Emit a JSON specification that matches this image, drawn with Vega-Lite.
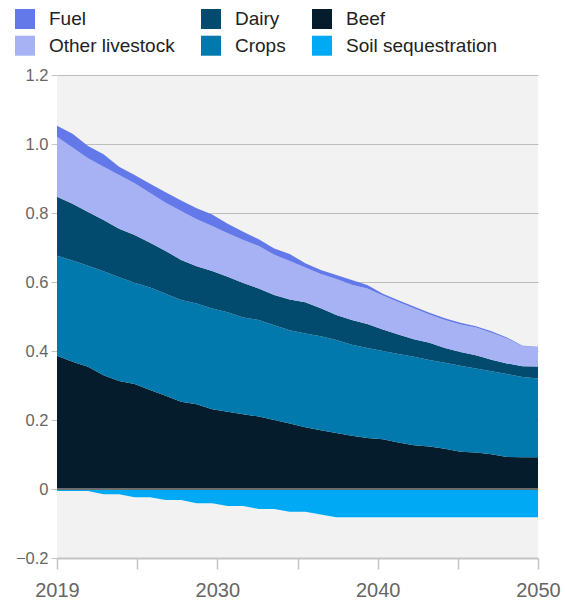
{
  "$schema": "https://vega.github.io/schema/vega-lite/v6.json",
  "autosize": {"type": "none"},
  "padding": {"left": 57, "top": 75, "right": 27, "bottom": 46},
  "width": 481,
  "height": 483,
  "config": {
    "font": "Liberation Sans",
    "view": {"fill": "#f2f2f2", "stroke": null}
  },
  "data": {
    "values": [
      {"year": 2019, "source": "Beef", "value": 0.386}, {"year": 2019, "source": "Crops", "value": 0.290}, {"year": 2019, "source": "Dairy", "value": 0.171}, {"year": 2019, "source": "Other livestock", "value": 0.174}, {"year": 2019, "source": "Fuel", "value": 0.032}, {"year": 2019, "source": "Soil sequestration", "value": -0.006},
      {"year": 2020, "source": "Beef", "value": 0.369}, {"year": 2020, "source": "Crops", "value": 0.293}, {"year": 2020, "source": "Dairy", "value": 0.165}, {"year": 2020, "source": "Other livestock", "value": 0.163}, {"year": 2020, "source": "Fuel", "value": 0.040}, {"year": 2020, "source": "Soil sequestration", "value": -0.006},
      {"year": 2021, "source": "Beef", "value": 0.354}, {"year": 2021, "source": "Crops", "value": 0.293}, {"year": 2021, "source": "Dairy", "value": 0.156}, {"year": 2021, "source": "Other livestock", "value": 0.156}, {"year": 2021, "source": "Fuel", "value": 0.035}, {"year": 2021, "source": "Soil sequestration", "value": -0.006},
      {"year": 2022, "source": "Beef", "value": 0.330}, {"year": 2022, "source": "Crops", "value": 0.301}, {"year": 2022, "source": "Dairy", "value": 0.149}, {"year": 2022, "source": "Other livestock", "value": 0.154}, {"year": 2022, "source": "Fuel", "value": 0.036}, {"year": 2022, "source": "Soil sequestration", "value": -0.015},
      {"year": 2023, "source": "Beef", "value": 0.313}, {"year": 2023, "source": "Crops", "value": 0.301}, {"year": 2023, "source": "Dairy", "value": 0.140}, {"year": 2023, "source": "Other livestock", "value": 0.156}, {"year": 2023, "source": "Fuel", "value": 0.024}, {"year": 2023, "source": "Soil sequestration", "value": -0.015},
      {"year": 2024, "source": "Beef", "value": 0.304}, {"year": 2024, "source": "Crops", "value": 0.294}, {"year": 2024, "source": "Dairy", "value": 0.138}, {"year": 2024, "source": "Other livestock", "value": 0.150}, {"year": 2024, "source": "Fuel", "value": 0.024}, {"year": 2024, "source": "Soil sequestration", "value": -0.024},
      {"year": 2025, "source": "Beef", "value": 0.287}, {"year": 2025, "source": "Crops", "value": 0.297}, {"year": 2025, "source": "Dairy", "value": 0.130}, {"year": 2025, "source": "Other livestock", "value": 0.144}, {"year": 2025, "source": "Fuel", "value": 0.027}, {"year": 2025, "source": "Soil sequestration", "value": -0.024},
      {"year": 2026, "source": "Beef", "value": 0.270}, {"year": 2026, "source": "Crops", "value": 0.296}, {"year": 2026, "source": "Dairy", "value": 0.124}, {"year": 2026, "source": "Other livestock", "value": 0.140}, {"year": 2026, "source": "Fuel", "value": 0.030}, {"year": 2026, "source": "Soil sequestration", "value": -0.032},
      {"year": 2027, "source": "Beef", "value": 0.253}, {"year": 2027, "source": "Crops", "value": 0.295}, {"year": 2027, "source": "Dairy", "value": 0.116}, {"year": 2027, "source": "Other livestock", "value": 0.142}, {"year": 2027, "source": "Fuel", "value": 0.030}, {"year": 2027, "source": "Soil sequestration", "value": -0.032},
      {"year": 2028, "source": "Beef", "value": 0.246}, {"year": 2028, "source": "Crops", "value": 0.292}, {"year": 2028, "source": "Dairy", "value": 0.108}, {"year": 2028, "source": "Other livestock", "value": 0.136}, {"year": 2028, "source": "Fuel", "value": 0.032}, {"year": 2028, "source": "Soil sequestration", "value": -0.041},
      {"year": 2029, "source": "Beef", "value": 0.231}, {"year": 2029, "source": "Crops", "value": 0.292}, {"year": 2029, "source": "Dairy", "value": 0.109}, {"year": 2029, "source": "Other livestock", "value": 0.130}, {"year": 2029, "source": "Fuel", "value": 0.034}, {"year": 2029, "source": "Soil sequestration", "value": -0.041},
      {"year": 2030, "source": "Beef", "value": 0.224}, {"year": 2030, "source": "Crops", "value": 0.288}, {"year": 2030, "source": "Dairy", "value": 0.103}, {"year": 2030, "source": "Other livestock", "value": 0.126}, {"year": 2030, "source": "Fuel", "value": 0.028}, {"year": 2030, "source": "Soil sequestration", "value": -0.049},
      {"year": 2031, "source": "Beef", "value": 0.217}, {"year": 2031, "source": "Crops", "value": 0.280}, {"year": 2031, "source": "Dairy", "value": 0.100}, {"year": 2031, "source": "Other livestock", "value": 0.125}, {"year": 2031, "source": "Fuel", "value": 0.024}, {"year": 2031, "source": "Soil sequestration", "value": -0.049},
      {"year": 2032, "source": "Beef", "value": 0.210}, {"year": 2032, "source": "Crops", "value": 0.280}, {"year": 2032, "source": "Dairy", "value": 0.091}, {"year": 2032, "source": "Other livestock", "value": 0.123}, {"year": 2032, "source": "Fuel", "value": 0.020}, {"year": 2032, "source": "Soil sequestration", "value": -0.058},
      {"year": 2033, "source": "Beef", "value": 0.200}, {"year": 2033, "source": "Crops", "value": 0.275}, {"year": 2033, "source": "Dairy", "value": 0.087}, {"year": 2033, "source": "Other livestock", "value": 0.117}, {"year": 2033, "source": "Fuel", "value": 0.018}, {"year": 2033, "source": "Soil sequestration", "value": -0.058},
      {"year": 2034, "source": "Beef", "value": 0.190}, {"year": 2034, "source": "Crops", "value": 0.270}, {"year": 2034, "source": "Dairy", "value": 0.089}, {"year": 2034, "source": "Other livestock", "value": 0.112}, {"year": 2034, "source": "Fuel", "value": 0.020}, {"year": 2034, "source": "Soil sequestration", "value": -0.066},
      {"year": 2035, "source": "Beef", "value": 0.179}, {"year": 2035, "source": "Crops", "value": 0.272}, {"year": 2035, "source": "Dairy", "value": 0.090}, {"year": 2035, "source": "Other livestock", "value": 0.101}, {"year": 2035, "source": "Fuel", "value": 0.012}, {"year": 2035, "source": "Soil sequestration", "value": -0.066},
      {"year": 2036, "source": "Beef", "value": 0.170}, {"year": 2036, "source": "Crops", "value": 0.273}, {"year": 2036, "source": "Dairy", "value": 0.081}, {"year": 2036, "source": "Other livestock", "value": 0.099}, {"year": 2036, "source": "Fuel", "value": 0.012}, {"year": 2036, "source": "Soil sequestration", "value": -0.074},
      {"year": 2037, "source": "Beef", "value": 0.162}, {"year": 2037, "source": "Crops", "value": 0.270}, {"year": 2037, "source": "Dairy", "value": 0.072}, {"year": 2037, "source": "Other livestock", "value": 0.105}, {"year": 2037, "source": "Fuel", "value": 0.011}, {"year": 2037, "source": "Soil sequestration", "value": -0.082},
      {"year": 2038, "source": "Beef", "value": 0.154}, {"year": 2038, "source": "Crops", "value": 0.264}, {"year": 2038, "source": "Dairy", "value": 0.072}, {"year": 2038, "source": "Other livestock", "value": 0.102}, {"year": 2038, "source": "Fuel", "value": 0.014}, {"year": 2038, "source": "Soil sequestration", "value": -0.082},
      {"year": 2039, "source": "Beef", "value": 0.148}, {"year": 2039, "source": "Crops", "value": 0.261}, {"year": 2039, "source": "Dairy", "value": 0.069}, {"year": 2039, "source": "Other livestock", "value": 0.103}, {"year": 2039, "source": "Fuel", "value": 0.010}, {"year": 2039, "source": "Soil sequestration", "value": -0.082},
      {"year": 2040, "source": "Beef", "value": 0.144}, {"year": 2040, "source": "Crops", "value": 0.256}, {"year": 2040, "source": "Dairy", "value": 0.062}, {"year": 2040, "source": "Other livestock", "value": 0.099}, {"year": 2040, "source": "Fuel", "value": 0.005}, {"year": 2040, "source": "Soil sequestration", "value": -0.082},
      {"year": 2041, "source": "Beef", "value": 0.135}, {"year": 2041, "source": "Crops", "value": 0.256}, {"year": 2041, "source": "Dairy", "value": 0.057}, {"year": 2041, "source": "Other livestock", "value": 0.094}, {"year": 2041, "source": "Fuel", "value": 0.005}, {"year": 2041, "source": "Soil sequestration", "value": -0.082},
      {"year": 2042, "source": "Beef", "value": 0.127}, {"year": 2042, "source": "Crops", "value": 0.256}, {"year": 2042, "source": "Dairy", "value": 0.051}, {"year": 2042, "source": "Other livestock", "value": 0.090}, {"year": 2042, "source": "Fuel", "value": 0.005}, {"year": 2042, "source": "Soil sequestration", "value": -0.082},
      {"year": 2043, "source": "Beef", "value": 0.123}, {"year": 2043, "source": "Crops", "value": 0.251}, {"year": 2043, "source": "Dairy", "value": 0.050}, {"year": 2043, "source": "Other livestock", "value": 0.082}, {"year": 2043, "source": "Fuel", "value": 0.005}, {"year": 2043, "source": "Soil sequestration", "value": -0.082},
      {"year": 2044, "source": "Beef", "value": 0.117}, {"year": 2044, "source": "Crops", "value": 0.249}, {"year": 2044, "source": "Dairy", "value": 0.043}, {"year": 2044, "source": "Other livestock", "value": 0.081}, {"year": 2044, "source": "Fuel", "value": 0.005}, {"year": 2044, "source": "Soil sequestration", "value": -0.082},
      {"year": 2045, "source": "Beef", "value": 0.108}, {"year": 2045, "source": "Crops", "value": 0.249}, {"year": 2045, "source": "Dairy", "value": 0.040}, {"year": 2045, "source": "Other livestock", "value": 0.080}, {"year": 2045, "source": "Fuel", "value": 0.005}, {"year": 2045, "source": "Soil sequestration", "value": -0.082},
      {"year": 2046, "source": "Beef", "value": 0.106}, {"year": 2046, "source": "Crops", "value": 0.243}, {"year": 2046, "source": "Dairy", "value": 0.039}, {"year": 2046, "source": "Other livestock", "value": 0.080}, {"year": 2046, "source": "Fuel", "value": 0.004}, {"year": 2046, "source": "Soil sequestration", "value": -0.082},
      {"year": 2047, "source": "Beef", "value": 0.101}, {"year": 2047, "source": "Crops", "value": 0.240}, {"year": 2047, "source": "Dairy", "value": 0.034}, {"year": 2047, "source": "Other livestock", "value": 0.078}, {"year": 2047, "source": "Fuel", "value": 0.004}, {"year": 2047, "source": "Soil sequestration", "value": -0.082},
      {"year": 2048, "source": "Beef", "value": 0.093}, {"year": 2048, "source": "Crops", "value": 0.240}, {"year": 2048, "source": "Dairy", "value": 0.031}, {"year": 2048, "source": "Other livestock", "value": 0.072}, {"year": 2048, "source": "Fuel", "value": 0.003}, {"year": 2048, "source": "Soil sequestration", "value": -0.082},
      {"year": 2049, "source": "Beef", "value": 0.092}, {"year": 2049, "source": "Crops", "value": 0.233}, {"year": 2049, "source": "Dairy", "value": 0.031}, {"year": 2049, "source": "Other livestock", "value": 0.058}, {"year": 2049, "source": "Fuel", "value": 0.001}, {"year": 2049, "source": "Soil sequestration", "value": -0.082},
      {"year": 2050, "source": "Beef", "value": 0.092}, {"year": 2050, "source": "Crops", "value": 0.228}, {"year": 2050, "source": "Dairy", "value": 0.035}, {"year": 2050, "source": "Other livestock", "value": 0.058}, {"year": 2050, "source": "Fuel", "value": 0.000}, {"year": 2050, "source": "Soil sequestration", "value": -0.082}
    ]
  },
  "transform": [
    {"calculate": "indexof(['Soil sequestration', 'Beef', 'Crops', 'Dairy', 'Other livestock', 'Fuel'], datum.source)", "as": "stackOrder"}
  ],
  "layer": [
    {
      "mark": {"type": "area", "interpolate": "linear", "strokeWidth": 0},
      "encoding": {
        "x": {
          "field": "year",
          "type": "quantitative",
          "scale": {"domain": [2019, 2050], "nice": false, "zero": false},
          "axis": {
            "title": null,
            "values": [2019, 2024.1667, 2029.3333, 2034.5, 2039.6667, 2044.8333, 2050],
            "labelExpr": "datum.value == 2019 ? '2019' : abs(datum.value - 2029.3333) < 0.01 ? '2030' : abs(datum.value - 2039.6667) < 0.01 ? '2040' : datum.value == 2050 ? '2050' : ''",
            "labelFlush": false,
            "labelOverlap": false,
            "labelFontSize": 20,
            "labelColor": "#666666",
            "labelPadding": 11,
            "grid": false,
            "domain": true,
            "domainColor": "#c4c4c4",
            "domainWidth": 2,
            "ticks": true,
            "tickColor": "#c4c4c4",
            "tickWidth": 1.5,
            "tickSize": 11
          }
        },
        "y": {
          "field": "value",
          "type": "quantitative",
          "aggregate": "sum",
          "stack": "zero",
          "scale": {"domain": [-0.2, 1.2], "nice": false},
          "axis": {
            "title": null,
            "values": [-0.2, 0, 0.2, 0.4, 0.6, 0.8, 1.0, 1.2],
            "labelExpr": "datum.value == 0 ? '0' : format(datum.value, '.1f')",
            "labelFontSize": 16.5,
            "labelColor": "#666666",
            "labelPadding": 3,
            "domain": false,
            "ticks": true,
            "tickColor": "#c4c4c4",
            "tickSize": 6,
            "grid": true,
            "gridColor": "#bdbdbd",
            "gridWidth": 1.2
          }
        },
        "color": {
          "field": "source",
          "type": "nominal",
          "scale": {
            "domain": ["Fuel", "Dairy", "Beef", "Other livestock", "Crops", "Soil sequestration"],
            "range": ["#6479e9", "#034b6e", "#051c2c", "#a6b2f3", "#0179ad", "#00a9f4"]
          },
          "legend": {
            "orient": "none",
            "legendX": -42,
            "legendY": -66,
            "direction": "horizontal",
            "columns": 3,
            "title": null,
            "padding": 0,
            "symbolType": "square",
            "symbolSize": 400,
            "symbolStrokeWidth": 0,
            "symbolOpacity": 1,
            "labelFontSize": 19,
            "labelColor": "#222222",
            "labelOffset": 14,
            "rowPadding": 6.7,
            "columnPadding": 26
          }
        },
        "order": {"field": "stackOrder", "type": "quantitative"}
      }
    },
    {
      "mark": {"type": "rule", "color": "#6e6e6e", "strokeWidth": 1.5},
      "encoding": {"y": {"datum": 0}}
    }
  ]
}
